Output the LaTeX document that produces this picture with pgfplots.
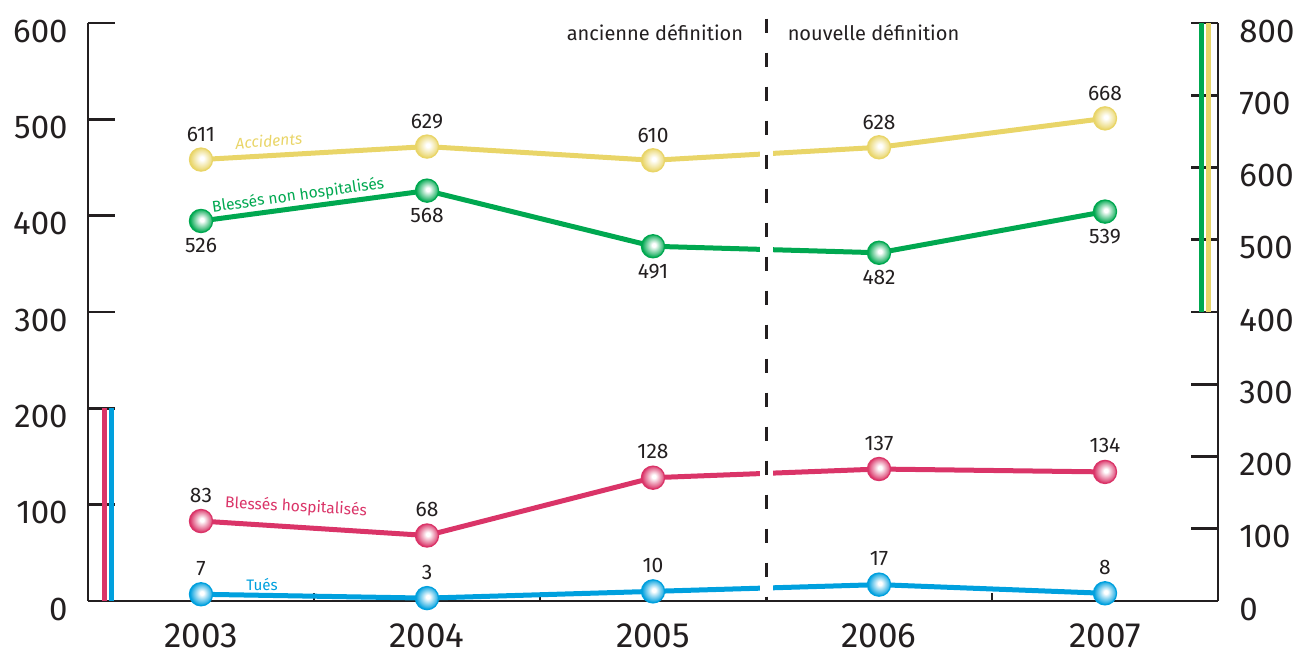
\documentclass[border=0pt]{standalone}
\usepackage{pgfplots}
\pgfplotsset{compat=1.18}
\usepackage{fontspec}
\setmainfont{Fira Sans}
\definecolor{cY}{RGB}{233,213,104}
\definecolor{cG}{RGB}{0,168,80}
\definecolor{cR}{RGB}{218,52,104}
\definecolor{cB}{RGB}{0,160,222}
\definecolor{axc}{RGB}{35,31,32}
\newcommand\mkball[2]{%
 \pgfdeclareradialshading{sh#1}{\pgfpoint{2bp}{3bp}}{color(0bp)=(white); color(4bp)=(white); color(19bp)=(#2!70!white); color(25bp)=(#2); color(50bp)=(#2)}%
 \pgfdeclareplotmark{ball#1}{\pgfpathcircle{\pgfpointorigin}{\pgfplotmarksize}\pgfshadepath{sh#1}{0}\pgfusepath{stroke}}}
\mkball{Y}{cY}
\mkball{G}{cG}
\mkball{R}{cR}
\mkball{B}{cB}
\pgfplotsset{
 common/.style={scale only axis, width=565pt, height=289pt,
  xmin=2002.5, xmax=2007.5, ymin=0, clip=false,
  /pgf/number format/assume math mode=true,
  axis line style={line width=1.3pt, color=axc, -},
  tick style={line width=1.3pt, color=axc},
  major tick length=13.5pt, tick align=inside,
  yticklabel style={font=\fontsize{16.5}{16}\selectfont, color=axc, inner sep=0pt, yshift=-4pt},
  },
 ser/.style={#1, line width=2.5pt, mark size=5.8pt, mark options={line width=0.6pt, draw=#1},
  nodes near coords, every node near coord/.append style={font=\fontsize{10.5}{11}\selectfont, color=axc, anchor=center}},
}
\begin{document}
\begin{tikzpicture}
\useasboundingbox (-44pt,-27pt) rectangle (605.5pt,300.5pt);
\begin{axis}[common, ymax=600,
 axis x line*=bottom, axis y line*=left,
 xtick={2003,2004,2005,2006,2007}, xticklabels={2003,2004,2005,2006,2007},
 major x tick style={draw=none},
 minor xtick={2003.5,2004.5,2005.5,2006.5}, minor tick length=4pt,
 xticklabel style={font=\fontsize{17.5}{18}\selectfont, color=axc, inner sep=0pt, anchor=north},
 xticklabel shift=11pt,
 ytick={0,100,...,600}, yticklabel shift=10pt,
]
\addplot[ser=cR, mark=ballR, every node near coord/.append style={yshift=13pt}] coordinates {(2003,83)(2004,68)(2005,128)(2006,137)(2007,134)};
\addplot[ser=cB, mark=ballB, every node near coord/.append style={yshift=13pt}] coordinates {(2003,7)(2004,3)(2005,10)(2006,17)(2007,8)};
\draw[cR, line width=2.5pt] (axis cs:2002.571,0) -- (axis cs:2002.571,200);
\draw[cB, line width=2.5pt] (axis cs:2002.602,0) -- (axis cs:2002.602,200);
\node[cR, font=\fontsize{7.8}{9}\selectfont, rotate=-3] at (axis cs:2003.42,97.5) {Blessés hospitalisés};
\node[cB, font=\fontsize{7.6}{9}\selectfont] at (axis cs:2003.27,17) {Tués};
\end{axis}
\begin{axis}[common, ymax=800,
 axis x line=none, axis y line*=right,
 ytick={0,100,...,800}, yticklabel shift=10.5pt,
 yticklabel style={anchor=west},
]
\addplot[ser=cY, mark=ballY, every node near coord/.append style={yshift=12.5pt}] coordinates {(2003,611)(2004,629)(2005,610)(2006,628)(2007,668)};
\addplot[ser=cG, mark=ballG, every node near coord/.append style={yshift=-12.5pt}] coordinates {(2003,526)(2004,568)(2005,491)(2006,482)(2007,539)};
\draw[cG, line width=2.5pt] (axis cs:2007.429,400) -- (axis cs:2007.429,800);
\draw[cY, line width=2.5pt] (axis cs:2007.46,400) -- (axis cs:2007.46,800);
\draw[white, line width=6.5pt] (axis cs:2005.5,4) -- (axis cs:2005.5,800);
\draw[axc, line width=1.5pt, dash pattern=on 7pt off 10pt] (axis cs:2005.5,806) -- (axis cs:2005.5,0);
\node[cY, font=\itshape\fontsize{7.8}{9}\selectfont, rotate=4] at (axis cs:2003.30,637) {Accidents};
\node[cG, font=\fontsize{7.8}{9}\selectfont, rotate=8] at (axis cs:2003.43,561) {Blessés non hospitalisés};
\node[axc, font=\fontsize{10}{11}\selectfont, anchor=east] at (axis cs:2005.43,787) {ancienne définition};
\node[axc, font=\fontsize{10}{11}\selectfont, anchor=west] at (axis cs:2005.565,787) {nouvelle définition};
\end{axis}
\end{tikzpicture}
\end{document}
